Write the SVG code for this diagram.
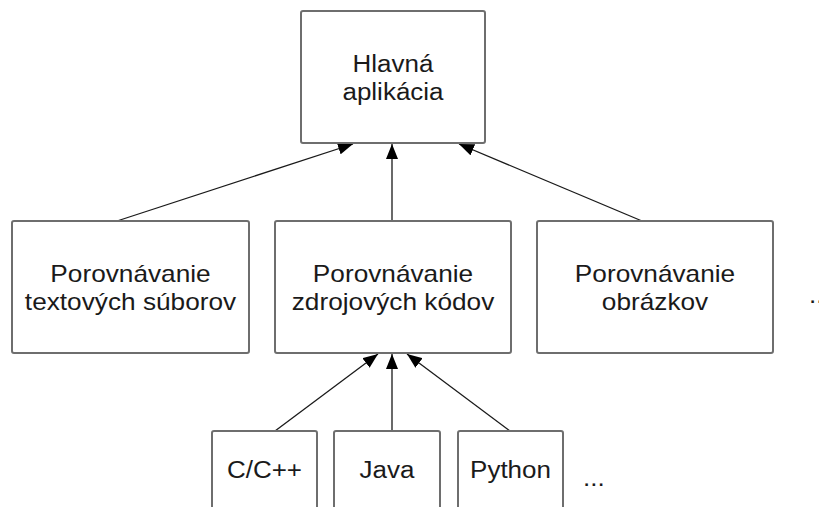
<svg xmlns="http://www.w3.org/2000/svg" width="819" height="507" viewBox="0 0 819 507">
  <defs>
    <marker id="arrow" viewBox="0 0 15 12" refX="15" refY="6" markerWidth="15" markerHeight="12" markerUnits="userSpaceOnUse" orient="auto">
      <path d="M0,0 L15,6 L0,12 Z" fill="#000"/>
    </marker>
  </defs>
  <style>
    .box { fill: #fff; stroke: #6e6e6e; stroke-width: 2; }
    .lbl { font-family: "Liberation Sans", Arial, sans-serif; font-size: 23px; fill: #1a1a1a; text-anchor: middle; }
    .edge { stroke: #1a1a1a; stroke-width: 1.3; fill: none; marker-end: url(#arrow); }
  </style>
  <rect width="819" height="507" fill="#fff"/>

  <g id="connectors">
    <line class="edge" x1="117" y1="221" x2="353" y2="144"/>
    <line class="edge" x1="392" y1="221" x2="392" y2="144"/>
    <line class="edge" x1="642" y1="221" x2="459" y2="144"/>
    <line class="edge" x1="275" y1="431" x2="378" y2="354"/>
    <line class="edge" x1="392" y1="431" x2="392" y2="354"/>
    <line class="edge" x1="510" y1="431" x2="407" y2="354"/>
  </g>

  <g id="hlavna">
    <rect class="box" x="301" y="11" width="184" height="132" rx="2"/>
    <text class="lbl" transform="translate(393,72) scale(1.13,1)">Hlavná</text>
    <text class="lbl" transform="translate(393,100) scale(1.13,1)">aplikácia</text>
  </g>

  <g id="textove">
    <rect class="box" x="12" y="221" width="237" height="132" rx="2"/>
    <text class="lbl" transform="translate(130.5,282) scale(1.14,1)">Porovnávanie</text>
    <text class="lbl" transform="translate(130.5,310) scale(1.14,1)">textových súborov</text>
  </g>

  <g id="zdrojove">
    <rect class="box" x="275" y="221" width="236" height="132" rx="2"/>
    <text class="lbl" transform="translate(393,282) scale(1.14,1)">Porovnávanie</text>
    <text class="lbl" transform="translate(393,310) scale(1.14,1)">zdrojových kódov</text>
  </g>

  <g id="obrazky">
    <rect class="box" x="537" y="221" width="236" height="132" rx="2"/>
    <text class="lbl" transform="translate(655,282) scale(1.14,1)">Porovnávanie</text>
    <text class="lbl" transform="translate(655,310) scale(1.14,1)">obrázkov</text>
  </g>

  <g id="dalsie-porovnania">
    <text class="lbl" style="text-anchor:start" transform="translate(809,303) scale(1.13,1)">...</text>
  </g>

  <g id="cpp">
    <rect class="box" x="212" y="431" width="105" height="90" rx="2"/>
    <text class="lbl" transform="translate(264.5,478) scale(1.13,1)">C/C++</text>
  </g>

  <g id="java">
    <rect class="box" x="334" y="431" width="106" height="90" rx="2"/>
    <text class="lbl" transform="translate(387,478) scale(1.13,1)">Java</text>
  </g>

  <g id="python">
    <rect class="box" x="458" y="431" width="105" height="90" rx="2"/>
    <text class="lbl" transform="translate(510.5,478) scale(1.13,1)">Python</text>
  </g>

  <g id="dalsie-jazyky">
    <text class="lbl" style="text-anchor:start" transform="translate(583,486) scale(1.13,1)">...</text>
  </g>
</svg>
